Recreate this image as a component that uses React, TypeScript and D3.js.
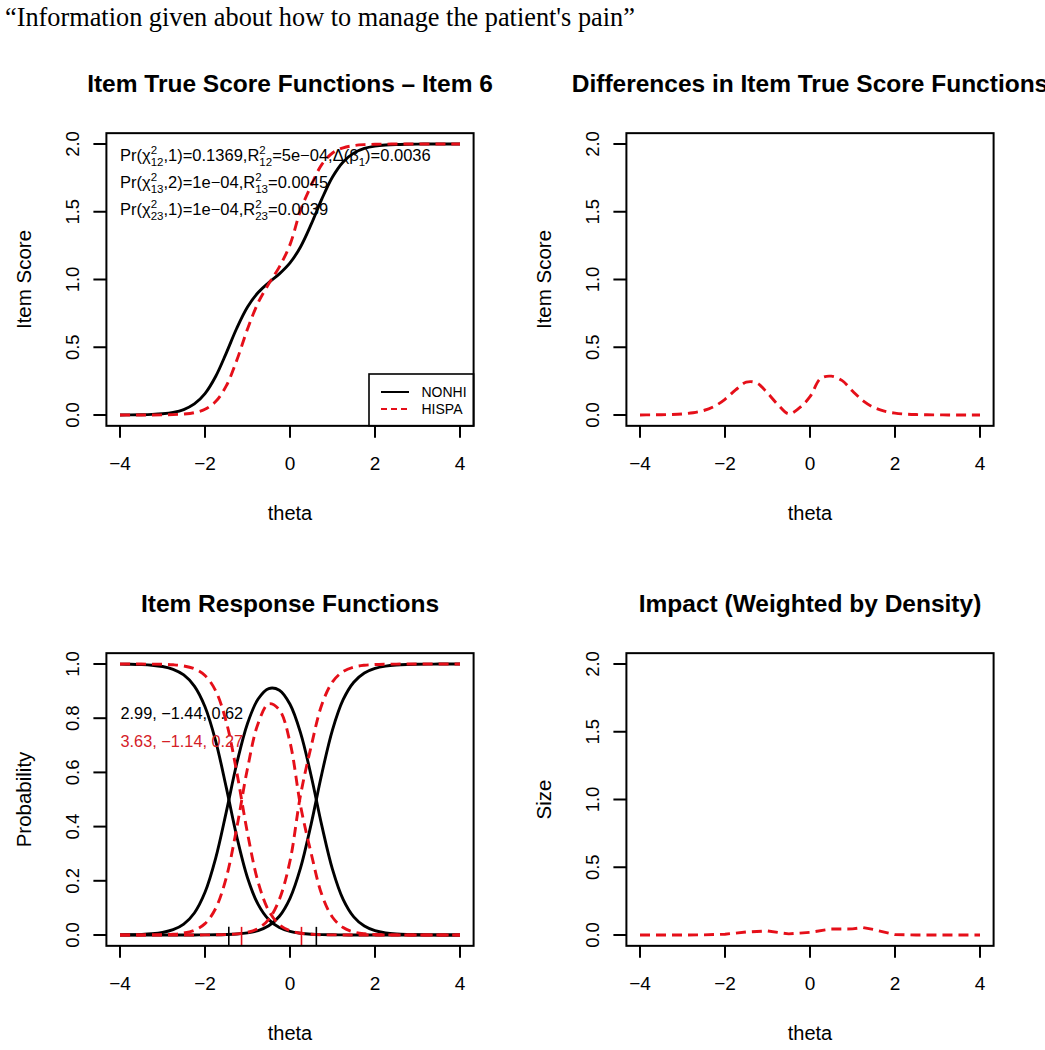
import * as d3 from "d3";
import type { ReactNode } from "react";

// theta grid shared by the smooth curves
const theta = [
  -4, -3.75, -3.5, -3.25, -3, -2.75, -2.5, -2.25, -2, -1.75, -1.5, -1.25, -1, -0.75, -0.5, -0.25, 0,
  0.25, 0.5, 0.75, 1, 1.25, 1.5, 1.75, 2, 2.25, 2.5, 2.75, 3, 3.25, 3.5, 3.75, 4,
];

// item true score functions
const trueNonhi = [
  0.0005, 0.001, 0.0021, 0.0044, 0.0093, 0.0195, 0.0404, 0.0817, 0.1583, 0.2844, 0.4571, 0.642,
  0.7963, 0.9036, 0.9772, 1.0414, 1.1221, 1.2422, 1.4082, 1.5946, 1.7562, 1.8678, 1.9326, 1.9669,
  1.9841, 1.9924, 1.9964, 1.9983, 1.9992, 1.9996, 1.9998, 1.9999, 2.0,
];
const trueHispa = [
  0.0, 0.0001, 0.0002, 0.0005, 0.0012, 0.0029, 0.0071, 0.0176, 0.0425, 0.0992, 0.2146, 0.4055,
  0.6342, 0.8288, 0.9683, 1.0935, 1.2572, 1.5117, 1.6948, 1.8499, 1.9336, 1.9721, 1.9885, 1.9954,
  1.9981, 1.9992, 1.9997, 1.9999, 2.0, 2.0, 2.0, 2.0, 2.0,
];
const trueDiff = [
  0.0005, 0.0009, 0.0019, 0.0039, 0.0081, 0.0166, 0.0333, 0.0641, 0.1158, 0.1852, 0.2425, 0.2365,
  0.1621, 0.0748, 0.0089, 0.0521, 0.1351, 0.2695, 0.2866, 0.2553, 0.1774, 0.1043, 0.0559, 0.0285,
  0.014, 0.0068, 0.0033, 0.0016, 0.0008, 0.0004, 0.0002, 0.0001, 0.0,
];

// item response functions, one per category
const nonhiP0 = [
  0.9995, 0.999, 0.9979, 0.9956, 0.9907, 0.9805, 0.9597, 0.9185, 0.8421, 0.7164, 0.5447, 0.3617,
  0.2115, 0.1128, 0.0567, 0.0277, 0.0133, 0.0064, 0.003, 0.0014, 0.0007, 0.0003, 0.0002, 0.0001,
  0, 0, 0, 0, 0, 0, 0, 0, 0,
];
const nonhiP1 = [
  0.0005, 0.001, 0.0021, 0.0044, 0.0093, 0.0195, 0.0402, 0.0813, 0.1575, 0.2828, 0.4535, 0.6346,
  0.7807, 0.8708, 0.9094, 0.9032, 0.8513, 0.745, 0.5858, 0.4026, 0.2424, 0.1316, 0.067, 0.0329,
  0.0159, 0.0076, 0.0036, 0.0017, 0.0008, 0.0004, 0.0002, 0.0001, 0,
];
const nonhiP2 = [
  0, 0, 0, 0, 0, 0, 0.0001, 0.0002, 0.0004, 0.0008, 0.0018, 0.0037, 0.0078, 0.0164, 0.0339, 0.0691,
  0.1354, 0.2486, 0.4112, 0.596, 0.7569, 0.8681, 0.9328, 0.967, 0.9841, 0.9924, 0.9964, 0.9983,
  0.9992, 0.9996, 0.9998, 0.9999, 1.0,
];
const hispaP0 = [
  1.0, 0.9999, 0.9998, 0.9995, 0.9988, 0.9971, 0.9929, 0.9825, 0.9578, 0.9015, 0.787, 0.5985,
  0.3757, 0.1953, 0.0893, 0.038, 0.0157, 0.0064, 0.0026, 0.001, 0.0004, 0.0002, 0.0001, 0, 0, 0, 0,
  0, 0, 0, 0, 0, 0,
];
const hispaP1 = [
  0, 0.0001, 0.0002, 0.0005, 0.0012, 0.0029, 0.0071, 0.0174, 0.0419, 0.0978, 0.2114, 0.3975,
  0.6144, 0.7806, 0.8531, 0.8305, 0.7114, 0.4755, 0.3, 0.1481, 0.0656, 0.0275, 0.0113, 0.0046,
  0.0019, 0.0008, 0.0003, 0.0001, 0, 0, 0, 0, 0,
];
const hispaP2 = [
  0, 0, 0, 0, 0, 0, 0, 0.0001, 0.0003, 0.0007, 0.0016, 0.004, 0.0099, 0.0241, 0.0576, 0.1315,
  0.2729, 0.5181, 0.6974, 0.8509, 0.934, 0.9723, 0.9886, 0.9954, 0.9981, 0.9992, 0.9997, 0.9999, 1,
  1, 1, 1, 1,
];
const nonhiThresholds = [-1.44, 0.62];
const hispaThresholds = [-1.14, 0.27];

// impact, weighted by density
const impactTheta = [-4, -3.5, -3, -2.5, -2, -1.5, -1, -0.5, 0, 0.5, 1, 1.25, 1.5, 2, 2.5, 3, 3.5, 4];
const impactSize = [0, 0, 0, 0.001, 0.006, 0.022, 0.03, 0.008, 0.02, 0.044, 0.045, 0.055, 0.04, 0.003, 0, 0, 0, 0];

const thetaTicks = [-4, -2, 0, 2, 4];
const scoreTicks = [0, 0.5, 1, 1.5, 2];
const probTicks = [0, 0.2, 0.4, 0.6, 0.8, 1];
const groups = ["NONHI", "HISPA"];
const nonhiLabel = "2.99, −1.44, 0.62";
const hispaLabel = "3.63, −1.14, 0.27";

const FONT = "'Liberation Sans', Arial, Helvetica, sans-serif";
const RED = "#e50f19";
const DASH = "10 6";

type Series = { xs: number[]; ys: number[]; color: string; dashed?: boolean; linear?: boolean };
type Scale = d3.ScaleLinear<number, number>;

const minus = (s: string) => s.replace("-", "−");

function Panel(props: {
  ox: number;
  oy: number;
  title: string;
  yLabel: string;
  yMax: number;
  yTicks: number[];
  series: Series[];
  extra?: (x: Scale, y: Scale) => ReactNode;
}) {
  const { ox, oy, title, yLabel, yMax, yTicks, series, extra } = props;
  const x = d3.scaleLinear().domain([-4, 4]).range([ox + 120, ox + 460]);
  const y = d3.scaleLinear().domain([0, yMax]).range([oy + 415, oy + 144]);
  const left = x(-4.32);
  const right = x(4.32);
  const bottom = y(-0.04 * yMax);
  const top = y(1.04 * yMax);
  const cx = (left + right) / 2;
  const cy = (top + bottom) / 2;

  return (
    <g>
      <text x={cx} y={oy + 92} textAnchor="middle" fontSize={24.5} fontWeight="bold">
        {title}
      </text>

      {series.map((s, i) => {
        const line = d3
          .line<number>()
          .x((_, j) => x(s.xs[j]))
          .y((d) => y(d))
          .curve(s.linear ? d3.curveLinear : d3.curveCatmullRom);
        return (
          <path
            key={i}
            d={line(s.ys) ?? ""}
            fill="none"
            stroke={s.color}
            strokeWidth={2.9}
            strokeDasharray={s.dashed ? DASH : undefined}
          />
        );
      })}

      {extra && extra(x, y)}

      <rect x={left} y={top} width={right - left} height={bottom - top} fill="none" stroke="#000" strokeWidth={2} />

      {thetaTicks.map((t) => (
        <g key={t}>
          <line x1={x(t)} x2={x(t)} y1={bottom} y2={bottom + 12} stroke="#000" strokeWidth={2} />
          <text x={x(t)} y={oy + 470} textAnchor="middle" fontSize={19}>
            {minus(String(t))}
          </text>
        </g>
      ))}
      <text x={cx} y={oy + 520} textAnchor="middle" fontSize={20}>
        theta
      </text>

      {yTicks.map((t) => (
        <g key={t}>
          <line x1={left - 13} x2={left} y1={y(t)} y2={y(t)} stroke="#000" strokeWidth={2} />
          <text transform={`translate(${ox + 79},${y(t)}) rotate(-90)`} textAnchor="middle" fontSize={18.5}>
            {d3.format(".1f")(t)}
          </text>
        </g>
      ))}
      <text transform={`translate(${ox + 31},${cy}) rotate(-90)`} textAnchor="middle" fontSize={20.5}>
        {yLabel}
      </text>
    </g>
  );
}

// plotmath-like label: [text, kind] pieces, kind "" | "sup" | "sub"
type Piece = [string, "" | "sup" | "sub"];
const statLines: Piece[][] = [
  [["Pr(χ", ""], ["2", "sup"], ["12", "sub"], [",1)=0.1369,R", ""], ["2", "sup"], ["12", "sub"], ["=5e−04,Δ(β", ""], ["1", "sub"], [")=0.0036", ""]],
  [["Pr(χ", ""], ["2", "sup"], ["13", "sub"], [",2)=1e−04,R", ""], ["2", "sup"], ["13", "sub"], ["=0.0045", ""]],
  [["Pr(χ", ""], ["2", "sup"], ["23", "sub"], [",1)=1e−04,R", ""], ["2", "sup"], ["23", "sub"], ["=0.0039", ""]],
];

function MathLine({ x, y, pieces }: { x: number; y: number; pieces: Piece[] }) {
  const small = 11.5;
  let level = 0;
  let prev = "";
  let prevText = "";
  const spans = pieces.map(([t, kind], i) => {
    const target = kind === "sup" ? -7 : kind === "sub" ? 4.5 : 0;
    const dy = target - level;
    level = target;
    const dx = kind === "sub" && prev === "sup" ? -prevText.length * 0.556 * small : 0;
    prev = kind;
    prevText = t;
    return (
      <tspan key={i} dy={dy} dx={dx || undefined} fontSize={kind ? small : 16.5}>
        {t}
      </tspan>
    );
  });
  return (
    <text x={x} y={y} fontSize={16.5}>
      {spans}
    </text>
  );
}

export default function App() {
  return (
    <svg
      width={1045}
      height={1050}
      style={{ position: "absolute", left: 0, top: 0, background: "#fff" }}
      fontFamily={FONT}
    >
      <rect width={1045} height={1050} fill="#fff" />
      <text x={5} y={26} fontSize={26.3} fontFamily="'Liberation Serif', 'Times New Roman', serif">
        “Information given about how to manage the patient's pain”
      </text>

      <Panel
        ox={0}
        oy={0}
        title="Item True Score Functions – Item 6"
        yLabel="Item Score"
        yMax={2}
        yTicks={scoreTicks}
        series={[
          { xs: theta, ys: trueNonhi, color: "#000" },
          { xs: theta, ys: trueHispa, color: RED, dashed: true },
        ]}
        extra={(x, y) => (
          <g>
            {statLines.map((p, i) => (
              <MathLine key={i} x={120} y={161 + i * 27} pieces={p} />
            ))}
            <rect x={369} y={374} width={x(4.32) - 369} height={y(-0.08) - 374} fill="#fff" stroke="#000" strokeWidth={1.6} />
            <line x1={381} x2={409} y1={392} y2={392} stroke="#000" strokeWidth={2} />
            <line x1={381} x2={409} y1={409} y2={409} stroke={RED} strokeWidth={2} strokeDasharray="6 4" />
            {groups.map((g, i) => (
              <text key={g} x={421.5} y={397 + i * 17} fontSize={14}>
                {g}
              </text>
            ))}
          </g>
        )}
      />

      <Panel
        ox={520}
        oy={0}
        title="Differences in Item True Score Functions"
        yLabel="Item Score"
        yMax={2}
        yTicks={scoreTicks}
        series={[{ xs: theta, ys: trueDiff, color: RED, dashed: true }]}
      />

      <Panel
        ox={0}
        oy={520}
        title="Item Response Functions"
        yLabel="Probability"
        yMax={1}
        yTicks={probTicks}
        series={[
          { xs: theta, ys: nonhiP0, color: "#000" },
          { xs: theta, ys: nonhiP1, color: "#000" },
          { xs: theta, ys: nonhiP2, color: "#000" },
          { xs: theta, ys: hispaP0, color: RED, dashed: true },
          { xs: theta, ys: hispaP1, color: RED, dashed: true },
          { xs: theta, ys: hispaP2, color: RED, dashed: true },
        ]}
        extra={(x, y) => (
          <g>
            {nonhiThresholds.map((b) => (
              <line key={"n" + b} x1={x(b)} x2={x(b)} y1={y(-0.04)} y2={y(0.03)} stroke="#000" strokeWidth={1.6} />
            ))}
            {hispaThresholds.map((b) => (
              <line key={"h" + b} x1={x(b)} x2={x(b)} y1={y(-0.04)} y2={y(0.03)} stroke={RED} strokeWidth={1.6} />
            ))}
            <text x={120.5} y={719} fontSize={16.3}>
              {nonhiLabel}
            </text>
            <text x={120.5} y={747} fontSize={16.3} fill="#d42027">
              {hispaLabel}
            </text>
          </g>
        )}
      />

      <Panel
        ox={520}
        oy={520}
        title="Impact (Weighted by Density)"
        yLabel="Size"
        yMax={2}
        yTicks={scoreTicks}
        series={[{ xs: impactTheta, ys: impactSize, color: RED, dashed: true, linear: true }]}
      />
    </svg>
  );
}
